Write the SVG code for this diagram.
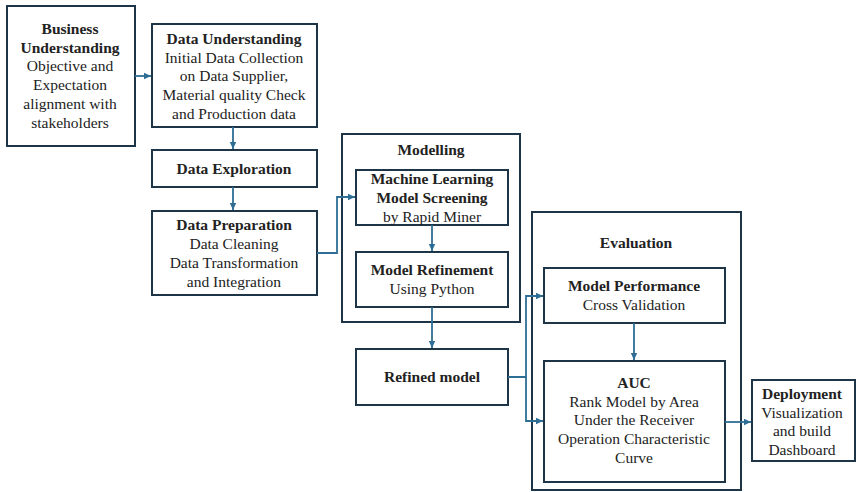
<svg xmlns="http://www.w3.org/2000/svg" width="864" height="492" viewBox="0 0 864 492">
<defs>
<style>
.box{fill:#fff;stroke:#1e3548;stroke-width:2}
.t{font-family:"Liberation Serif","Times New Roman",serif;font-size:15.5px;fill:#222;text-anchor:middle}
.b{font-weight:bold}
.c{fill:none;stroke:#2e6e95;stroke-width:1.8}
</style>
<marker id="ah" markerUnits="userSpaceOnUse" markerWidth="8" markerHeight="8" refX="7" refY="4" orient="auto">
<path d="M0,0.8 L7,4 L0,7.2 Z" fill="#2e6e95"/>
</marker>
</defs>
<rect width="864" height="492" fill="#fff"/>
<g id="modelling">
<rect class="box" x="342" y="134" width="178" height="188"/>
<text class="t b" x="431" y="155">Modelling</text>
</g>
<g id="evaluation">
<rect class="box" x="532" y="212" width="209" height="278"/>
<text class="t b" x="636" y="248">Evaluation</text>
</g>
<g id="business">
<rect class="box" x="7" y="6" width="128" height="140"/>
<text class="t" x="70" y="34"><tspan class="b" x="70">Business</tspan><tspan class="b" x="70" dy="18.7">Understanding</tspan><tspan x="70" dy="18.7">Objective and</tspan><tspan x="70" dy="18.7">Expectation</tspan><tspan x="70" dy="18.7">alignment with</tspan><tspan x="70" dy="18.7">stakeholders</tspan></text>
</g>
<g id="dataunderstanding">
<rect class="box" x="152" y="24" width="165" height="103"/>
<text class="t" x="234" y="44"><tspan class="b" x="234">Data Understanding</tspan><tspan x="234" dy="18.7">Initial Data Collection</tspan><tspan x="234" dy="18.7">on Data Supplier,</tspan><tspan x="234" dy="18.7">Material quality Check</tspan><tspan x="234" dy="18.7">and Production data</tspan></text>
</g>
<g id="dataexploration">
<rect class="box" x="152" y="150" width="165" height="37"/>
<text class="t b" x="234" y="174">Data Exploration</text>
</g>
<g id="datapreparation">
<rect class="box" x="152" y="211" width="165" height="84"/>
<text class="t" x="234" y="230"><tspan class="b" x="234">Data Preparation</tspan><tspan x="234" dy="18.9">Data Cleaning</tspan><tspan x="234" dy="18.9">Data Transformation</tspan><tspan x="234" dy="18.9">and Integration</tspan></text>
</g>
<g id="mlscreening">
<rect class="box" x="356" y="170" width="152" height="55"/>
<text class="t" x="432" y="184"><tspan class="b" x="432">Machine Learning</tspan><tspan class="b" x="432" dy="18.9">Model Screening</tspan><tspan x="432" dy="18.9">by Rapid Miner</tspan></text>
</g>
<g id="modelrefinement">
<rect class="box" x="356" y="252" width="152" height="55"/>
<text class="t" x="432" y="275"><tspan class="b" x="432">Model Refinement</tspan><tspan x="432" dy="19">Using Python</tspan></text>
</g>
<g id="refinedmodel">
<rect class="box" x="356" y="349" width="152" height="56"/>
<text class="t b" x="432" y="382">Refined model</text>
</g>
<g id="modelperformance">
<rect class="box" x="544" y="268" width="181" height="55"/>
<text class="t" x="634" y="291"><tspan class="b" x="634">Model Performance</tspan><tspan x="634" dy="19">Cross Validation</tspan></text>
</g>
<g id="auc">
<rect class="box" x="544" y="361" width="181" height="121"/>
<text class="t" x="634" y="388"><tspan class="b" x="634">AUC</tspan><tspan x="634" dy="18.7">Rank Model by Area</tspan><tspan x="634" dy="18.7">Under the Receiver</tspan><tspan x="634" dy="18.7">Operation Characteristic</tspan><tspan x="634" dy="18.7">Curve</tspan></text>
</g>
<g id="deployment">
<rect class="box" x="752" y="380" width="103" height="81"/>
<text class="t" x="802" y="399"><tspan class="b" x="802">Deployment</tspan><tspan x="802" dy="18.5">Visualization</tspan><tspan x="802" dy="18.5">and build</tspan><tspan x="802" dy="18.5">Dashboard</tspan></text>
</g>
<g id="connectors">
<path class="c" d="M135,76 H151" marker-end="url(#ah)"/>
<path class="c" d="M233,127 V149" marker-end="url(#ah)"/>
<path class="c" d="M233,187 V210" marker-end="url(#ah)"/>
<path class="c" d="M317,253 H337 V197 H355" marker-end="url(#ah)"/>
<path class="c" d="M432,225 V251" marker-end="url(#ah)"/>
<path class="c" d="M432,307 V348" marker-end="url(#ah)"/>
<path class="c" d="M508,377 H526 V296 H543" marker-end="url(#ah)"/>
<path class="c" d="M526,377 V421 H543" marker-end="url(#ah)"/>
<path class="c" d="M634,323 V360" marker-end="url(#ah)"/>
<path class="c" d="M725,422 H751" marker-end="url(#ah)"/>
</g>
</svg>
